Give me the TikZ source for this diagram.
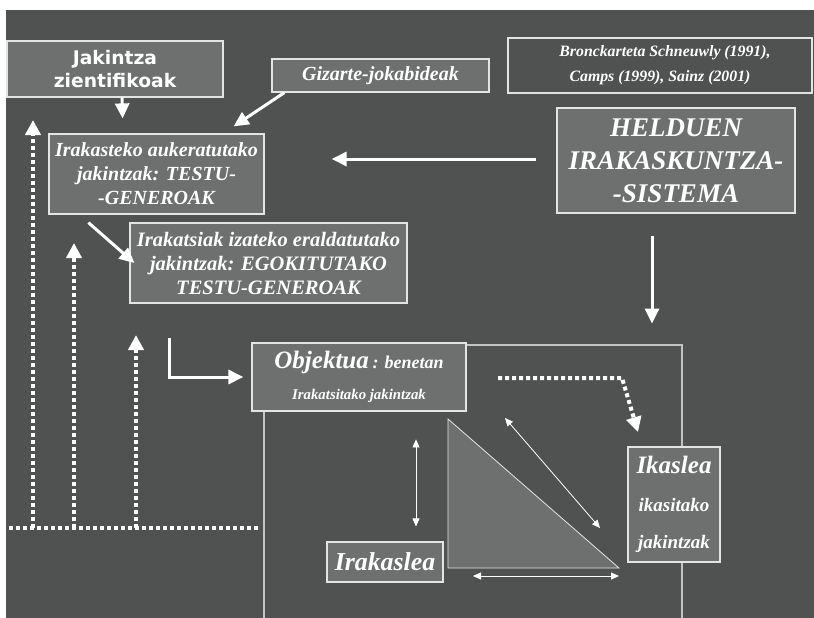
\documentclass[tikz,border=0pt]{standalone}
\usepackage{fontspec}
\setmainfont{Liberation Serif}
\newfontfamily\boldsans{DejaVu Sans}
\usetikzlibrary{arrows.meta}

\definecolor{slide}{HTML}{505251}
\definecolor{boxgray}{HTML}{6E706F}
\definecolor{rim}{HTML}{E4E4E4}
\definecolor{framegray}{HTML}{C4C4C4}

\begin{document}
\begin{tikzpicture}[x=1pt, y=-1pt,
    every node/.style={text=white, font=\bfseries\itshape},
    box/.style={draw=rim, fill=boxgray, line width=1.2pt, inner sep=0pt, align=center},
    bigarrow/.style={white, line width=3pt, -{Triangle[length=15pt, width=14pt]}},
    dotline/.style={white, line width=4pt, dash pattern=on 4pt off 3pt},
    dotarrow/.style={dotline, -{Triangle[length=15pt, width=15pt]}},
    thinarrow/.style={white, line width=0.8pt, {Triangle[length=8pt, width=7pt]}-{Triangle[length=8pt, width=7pt]}}]

    % page
    \useasboundingbox (0,0) rectangle (814,618);
    \fill[white] (0,0) rectangle (814,618);
    \fill[slide] (6,10) rectangle (814,618);

    % frame round the triangle
    \draw[framegray, line width=1.2pt] (264,618) -- (264,345) -- (682,345) -- (682,618);

    \node[box, minimum width=216pt, minimum height=56pt, font=\boldsans\bfseries\fontsize{18.7}{23}\selectfont] (jak) at (115,69) {Jakintza\\zientifikoak};

    \node[box, minimum width=215pt, minimum height=80pt, font=\bfseries\itshape\fontsize{20}{24}\selectfont] (ira) at (156.5,174) {Irakasteko aukeratutako\\jakintzak: TESTU-\\-GENEROAK};

    \node[box, minimum width=217pt, minimum height=33pt, font=\bfseries\itshape\fontsize{20}{22}\selectfont] (giz) at (380.5,75.5) {Gizarte-jokabideak};

    \node[box, fill=none, minimum width=304pt, minimum height=55pt, font=\bfseries\itshape\fontsize{15.8}{25}\selectfont] (bro) at (660,65.5) {\hspace*{10pt}Bronckarteta Schneuwly (1991),\\Camps (1999), Sainz (2001)};

    \node[box, minimum width=238pt, minimum height=105pt, font=\bfseries\itshape\fontsize{27}{33}\selectfont] (hel) at (676,160.5) {HELDUEN\\IRAKASKUNTZA-\\-SISTEMA};

    \node[box, minimum width=277pt, minimum height=80pt, font=\bfseries\itshape\fontsize{20.5}{24}\selectfont] (irk) at (268.5,263) {Irakatsiak izateko eraldatutako\\jakintzak: EGOKITUTAKO\\TESTU-GENEROAK};

    \node[box, minimum width=214pt, minimum height=68pt, font=\bfseries\itshape\fontsize{14.8}{31}\selectfont] (obj) at (359,377) {{\fontsize{25}{25}\selectfont Objektua} {\fontsize{18}{18}\selectfont : benetan}\\Irakatsitako jakintzak};

    \node[box, minimum width=116pt, minimum height=40pt, font=\bfseries\itshape\fontsize{25.8}{30}\selectfont] (irs) at (385,562) {Irakaslea};

    \node[box, minimum width=92pt, minimum height=115pt, font=\bfseries\itshape\fontsize{19}{37.5}\selectfont] (ika) at (674,504.5) {{\fontsize{25}{25}\selectfont Ikaslea}\\ikasitako\\jakintzak};

    % triangle
    \coordinate (ta) at (448,419);
    \coordinate (tb) at (448,568);
    \coordinate (tc) at (619,568);
    \filldraw[draw=rim, fill=boxgray, line width=0.8pt] (ta) -- (tb) -- (tc) -- cycle;

    % thick arrows
    \draw[bigarrow, shorten >=15pt] ([xshift=7pt]jak.south) -- ([xshift=-33.5pt]ira.north);
    \draw[bigarrow] ([xshift=13pt]giz.south west) -- ([xshift=-31pt, yshift=7pt]ira.north east);
    \draw[bigarrow] ([xshift=-20pt, yshift=1.5pt]hel.west) -- ([xshift=67pt, yshift=15pt]ira.east);
    \draw[bigarrow] ([xshift=-24pt, yshift=-22pt]hel.south) -- ([xshift=-24pt, yshift=-110pt]hel.south);
    \draw[bigarrow] ([xshift=40pt, yshift=-8pt]ira.south west) -- ([xshift=5pt]irk.west);
    \draw[bigarrow] ([xshift=-82pt, yshift=39pt]obj.west) |- ([xshift=-8pt]obj.west);

    % dotted feedback lines
    \coordinate (foot) at (9,528);
    \coordinate (footend) at (258,528);
    \coordinate (up1) at (33,120);
    \coordinate (up2) at (74,243);
    \coordinate (up3) at (136,335);
    \draw[dotline] (foot) -- (footend);
    \draw[dotarrow] (up1 |- foot) -- (up1);
    \draw[dotarrow] (up2 |- foot) -- (up2);
    \draw[dotarrow] (up3 |- foot) -- (up3);

    \coordinate (d1) at (498,378);
    \coordinate (d2) at (622,378);
    \coordinate (d3) at (638,432);
    \draw[dotarrow] (d1) -- (d2) -- (d3);

    % thin arrows
    \draw[thinarrow] ([xshift=31pt, yshift=102pt]irs.north) -- ([xshift=31pt, yshift=15pt]irs.north);
    \draw[thinarrow] (505,418) -- (600,528);
    \draw[thinarrow] ([xshift=25pt, yshift=-8pt]tb) -- ([yshift=-8pt]tc);
\end{tikzpicture}
\end{document}
